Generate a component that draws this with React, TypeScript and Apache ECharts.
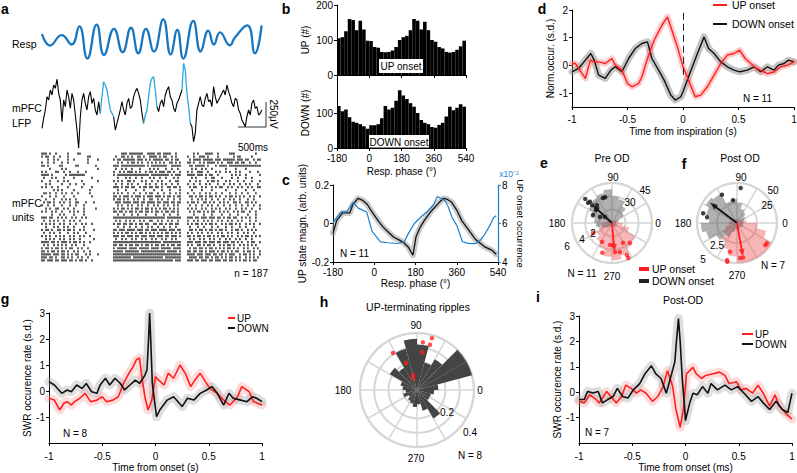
import React, { useEffect, useRef } from "react";
import * as echarts from "echarts";

const FONT = '"Liberation Sans", Arial, Helvetica, sans-serif';
const RED = "#ff1f1f";
const BLUE_RESP = "#1877c0";
const BLUE_LFP = "#2aa8e0";
const BLUE_C = "#1a7fd0";
const RING = "#d6d6d6";

// ---------- panel a ----------
const respTime = [0, 0.143, 0.351, 0.53, 0.667, 0.81, 0.976, 1.107, 1.286, 1.44, 1.589, 1.72, 1.857, 2.0, 2.167, 2.298, 2.417, 2.524, 2.702, 2.833, 2.97, 3.071, 3.18, 3.357, 3.446, 3.667, 3.804, 3.923];
const respValue = [6.7, -4.3, 5.7, -3.3, 14, -16.7, 15.7, -13.3, 11.7, -10.7, 12.7, -11.7, 11.7, -10, 20.7, -12.7, 10.7, -16.7, 19.3, -10, 10, -3.3, 8.3, -4, 3.3, 15, -11.7, 15];

const lfpStep = 0.02976; // seconds per sample
const lfpValues = [
  -283, -183, -100, 33, 0, 100, 50, 150, 117, 210,
  67, 0, -217, 0, -67, 100, 33, -83, 67, 0,
  -150, -300, -483, -167, 0, 67, -33, -100, 33, 83,
  -33, 17, -100, -150, -17, -133, 33, 183, 150, 100,
  0, -100, -133, -167, -300, -233, -167, -100, -17, -100,
  -150, -33, 17, -83, -67, 33, 83, 117, 67, 0,
  -133, -233, -150, -100, 33, 167, 217, 233, 100, -67,
  -117, -33, 0, -67, 50, 100, 133, 33, 0, -83,
  -117, -33, 0, 50, 100, 367, 300, 67, -67, -233,
  -267, -417, -333, -100, -33, 33, -50, -67, 17, 67,
  -17, 0, -67, 133, 33, -33, 0, 33, 67, 100,
  50, 150, 83, 33, -33, -67, 17, 0, -100, -133,
  -200, -233, -267, -167, -100, -150, -33, 0, -83, -67,
  -150, -133, -100,
];
const lfpBlueRanges = [[35, 43], [61, 69], [84, 89]];

const rasterColSec = 2 / 56;
const rasterOffsets = [0, 36, 55, 73];
const rasterRows = [
  ["|||.|..|.....|....||.........", "....|||.|||||||..||", "||.||.||||..|..", "...|.|...||||..|.....|||..........|.."],
  ["|.||..|..|...|.........||....", ".|..||.|.|..||.|..|", "|||.|.||..|.|..", "|..|..|||.|....|.......|.||.....|...."],
  ["...|..|.|....|..|......|....|", "|.||.||||||.|||.|.|", ".|||||.||.|.||.", ".|.||||.|||||.|||.||||||.|||.||..|.||"],
  ["|..|..|...|..|.........|.....", "..|.|..|.||.|.|..|.", "|.|.|.|..||.|.|", "||.|..|.|.||||.|.|..|||.||.||..|..|.."],
  ["||.|.....||......||........|.", "|||.||||||||||||.|.", "||||||||..|||||", ".||.|||||.|...|.||||.||||||||||||||||"],
  ["....|.....|.|...............|", ".|..|.|..|...|....|", ".|.|...|..|..|.", "..|.|..|.|..|......|....|....|......."],
  ["|.|....||..|..|...|...|......", "|..|.|.|||.|.|..|.|", "|.|.|||.||.|..|", "|.|..|||..|...|.|..|.|..|.|....|...|."],
  ["||||.|......|.||||||||.......", "|.||||||||||||||||.", "|||||||||.|.|||", "||||.|||.|.||..|......|.|.|..|......|"],
  [".|...|.|...|....|........|...", "..|...|.|..|..|...|", ".|..|..|...|.|.", "..|.|....|..||...|....|..|...|..|...."],
  ["|...|...|..|.|......|.......|", "|.|.|..||.|...|.|..", "|..|.|...|..||.", ".|..|.|...|.||.|...|.|...|..|...|...|"],
  ["..|.|.....|...|..|...|.......", ".|..|..|.|..|...|.|", "..|..|.|..|..|.", "|..|..|..|.|...|..|..|.|..|..|.|...|."],
  ["|.|..|..|....|......|....|...", "|||.|.||.||..|.||.|", "|.||.|..||.||.|", ".|.||..|.|..|.|.||..|.|..|.|..|.|..||"],
  ["......|.|.|.....|.......|....", "..|...|....|...|...", ".|...|...|....|", "..|....|....|......|....|....|...|..."],
  [".||.|..|..|.|..|..|.....|....", "|.|.|..|..|..|..|.|", "|..|..|..|..|.|", "|..|..|..|.|..|..|...|..|..|..|...|.."],
  ["|...|..|...|....|........|...", "||.|.|||.|.|||.|.||", "|.|||.|.||.|.||", ".||.|.||.|.||.|.|..|.||.|.|.|..|.|..|"],
  ["..|...|...|.|.|..|...........", "|.||.|.|..|.|..|..|", "|..|.|..|..|..|", "..|..|.|.|..|..|..|..|.|..|...|..|..."],
  [".|.||.|..|.|..|..||...|...|..", ".|||.||||.|||.||.||", "||.||.|||.||.||", "|.||.|..||.|.|..|.|.|..||.|..||.|.|.."],
  ["|..|..|...|...|..|...|.......", "..|.|..|.|..|.|..|.", ".|.|..|.|..|.|.", ".|..|..|..|.|..|..|..|..|..|..|..|..|"],
  ["..|.|..||..|.|..|....|.....|.", "|.|.||.|.|.||.|.||.", "|.|.|.||.|.|.|.", "|.|.|..|.|..|.|.|..|.|..|..|.|..|...|"],
  ["|.|..|.|..|...|.|.|..|.......", "||.||.|.||.|.||.||.", "|.||.|.||.||.|.", ".|.|.||.|.|.||..|.|.|..|.|.||..|..|.."],
  [".....|...|.|....|....|.......", "..|..|...|..|...|..", "..|...|..|...|.", "...|....|...|....|...|...|....|...|.."],
  ["|||.||..|.|.|..|.|..|.|......", "|||||||||||||||||||", "|||||||.|||||||", "|||.||.|||.|||.||.|.||.||..|.|.|..|.."],
  [".|..|.|.|..|..|.|..|.........", ".|.|..|.|.|..|.|..|", "|..|.|..|.|..|.", "|..|.|..|.|.|..|.|..|.|..|.|...|..|.."],
  ["|.|.|.|..|.|..|..|..|.|..|...", "|.||.||.||.|.||.||.", ".||.||.|.||.||.", "|.|.||.|.|.||.|..|.|.||.|.|..|.|.|..|"],
  ["..|...|.|..|.|..|....|.......", "..|..|..|..|..|..|.", "|..|..|..|..|..", ".|...|..|...|..|...|..|...|..|...|..."],
  ["|.||.|..||.|.||.|..|.|....|..", "||.|||.||||.|||.||.", "|||.||||.|||.||", ".||.|.||.|.||.|.||.|..|.||.|..|.|.|.."],
  [".|..|.|..|...|..|.|...|......", "|.|.|.||.|.|.||.|.|", ".|.|.|.||.|.|.|", "|.|..|.|..|.|..|.|..|.|..|..|.|..|..."],
  ["|.|.|..|.|.|..|.|..|.|..|....", "|||.||.|||.||.|||.|", "||.|||.||.|||.|", "||.|.||.|.||.|.|.||.|.|..|.|.||.|.|.|"],
  ["..|.|.|..|.|..|.|..|......|..", ".|..|.|..|.|..|.|..", "|.|..|.|..|.|..", ".|.|..|.|..|.|..|..|.|..|.|..|..|...."],
  ["||||.||.|.|||.|.||.|.|..|....", "|||||||||||||||||||", "|||||.|||||||||", "|||.|||.||.|||.||.|||.||.|.|..|.||..|"],
  [".|.|..|.|.|.|..|.|...|.......", "||.||.|.||.||.|.||.", "|.||.||.|.||.||", "|.|..||.|.||.|..|.|.||.|..|.|.|.|.|.."],
  ["|.||.|.||.|.|.||..|.|..|.....", "|.|||||.||||.|||||.", "||||.|||||.||||", ".|.||.||.|.||.|.|.|.||.|.|..|.|..|.|."],
  ["||.|.||.|.||.|..|.|..|..|....", "|||||.|||||||.|||||", "|||||||.|||||.|", "||.||.||.|.|||.|.||.|.|.||..|.||.|..|"],
  ["|||||.|||.||.|.|.||...|.|...|", "|||||||||||||||||||", "|||||||||||||||", "||||.|||.|||.||.||.|.|||..|.||.|.|..|"],
  ["|||.||.|..||.|.|..|.|..|.....", "|||||||||.|||||||||", "||||||.||||||||", ".||||.||.||.|.||.|.|.||.|.|..|.|.|.|."],
  ["||.|||.||.|||.||.|.||.|..|...", "|||||||||||||||||||", "|||||||||||.|||", "|||.||.|||.||.|||.||.||.|.|.||.|.||.."],
];

// ---------- panel b ----------
const phaseBins = [-170, -150, -130, -110, -90, -70, -50, -30, -10, 10, 30, 50, 70, 90, 110, 130, 150, 170, 190, 210, 230, 250, 270, 290, 310, 330, 350, 370, 390, 410, 430, 450, 470, 490, 510, 530];
const upCounts = [105, 108, 125, 160, 157, 128, 155, 130, 98, 97, 80, 78, 66, 65, 66, 70, 80, 100, 108, 112, 128, 160, 155, 130, 152, 128, 100, 95, 80, 76, 66, 64, 66, 72, 82, 98];
const downCounts = [120, 105, 110, 88, 75, 72, 68, 62, 55, 65, 65, 68, 85, 120, 110, 115, 135, 165, 150, 140, 128, 118, 100, 80, 72, 68, 60, 58, 66, 72, 90, 118, 108, 115, 125, 118];

// ---------- panel c ----------
const cUpMagn = [[-180, -0.05], [-164, 0.015], [-138, 0.055], [-107, 0.055], [-93, 0.1], [-71, 0.13], [-50, 0.12], [-31, 0.1], [-4, 0.05], [20, 0.01], [40, -0.02], [62, -0.045], [84, -0.07], [108, -0.085], [129, -0.1], [150, -0.125], [169, -0.165], [182, -0.07], [200, -0.02], [218, 0.015], [249, 0.065], [284, 0.11], [302, 0.13], [320, 0.125], [338, 0.11], [360, 0.07], [382, 0.015], [410, -0.03], [440, -0.08], [480, -0.12], [515, -0.14], [532, -0.16]];
const cUpOnset = [[-180, 6.05], [-144, 6.6], [-121, 6.6], [-92, 7.1], [-70, 6.8], [-33, 6.6], [-10, 5.6], [27, 5.05], [60, 5.0], [101, 4.96], [130, 5.04], [150, 5.5], [175, 6.0], [205, 6.35], [234, 6.65], [260, 7.0], [275, 7.4], [292, 7.3], [308, 7.2], [322, 6.9], [340, 6.3], [360, 5.9], [385, 5.05], [410, 4.97], [440, 4.95], [460, 5.1], [480, 5.4], [505, 5.9], [520, 6.3], [532, 6.4]];

// ---------- panel d ----------
const dUpOnset = [[-1.0, 0.07], [-0.97, 0.07], [-0.94, -0.11], [-0.88, -0.47], [-0.835, 0.19], [-0.8, 0.13], [-0.76, 0.13], [-0.7, 0.07], [-0.64, 0.25], [-0.61, 0.01], [-0.55, -0.17], [-0.5, -0.65], [-0.46, -0.77], [-0.4, -0.65], [-0.37, -0.41], [-0.32, 0.25], [-0.26, 0.91], [-0.19, 1.45], [-0.14, 1.75], [-0.1, 1.27], [-0.05, 0.67], [0.0, -0.05], [0.05, -0.53], [0.11, -1.13], [0.16, -1.07], [0.22, -0.77], [0.28, -0.35], [0.34, 0.07], [0.4, 0.37], [0.46, 0.43], [0.51, 0.55], [0.56, 0.25], [0.61, 0.07], [0.66, -0.1], [0.71, -0.2], [0.76, -0.3], [0.82, -0.23], [0.88, -0.05], [0.94, 0.0], [1.0, 0.13]];
const dDownOnset = [[-1.0, -0.23], [-0.94, -0.11], [-0.88, 0.19], [-0.83, 0.43], [-0.8, 0.19], [-0.76, -0.35], [-0.7, -0.47], [-0.65, -0.17], [-0.61, -0.05], [-0.55, -0.23], [-0.49, 0.25], [-0.43, 0.61], [-0.37, 0.79], [-0.32, 0.85], [-0.28, 0.25], [-0.23, -0.1], [-0.17, -0.53], [-0.11, -1.07], [-0.07, -1.25], [-0.02, -1.13], [0.0, -0.95], [0.05, -0.41], [0.13, 0.43], [0.19, 1.03], [0.23, 0.61], [0.28, 0.43], [0.34, 0.13], [0.4, -0.05], [0.46, -0.17], [0.51, -0.23], [0.58, -0.17], [0.64, -0.05], [0.7, -0.23], [0.76, -0.05], [0.82, -0.17], [0.86, 0.01], [0.91, 0.07], [0.95, 0.19], [1.0, 0.13]];

// ---------- panels e, f, h (polar) ----------
const angleBins = ["0", "15", "30", "45", "60", "75", "90", "105", "120", "135", "150", "165", "180", "195", "210", "225", "240", "255", "270", "285", "300", "315", "330", "345"];
const eDownHist = [5, 8, 15, 22, 28, 30, 38, 35, 33, 30, 25, 20, 18, 12, 8, 5, 4, 4, 4, 4, 5, 5, 6, 5];
const eUpHist = [8, 5, 4, 4, 3, 3, 3, 3, 4, 5, 6, 8, 12, 15, 20, 25, 30, 38, 42, 38, 33, 30, 20, 12];
const eDownDots = [[5.4, 138], [4.7, 140], [4.0, 138], [4.6, 136], [3.5, 130], [4.0, 110], [3.1, 157], [2.0, 153], [1.4, 139], [4.0, 105], [3.1, 141]];
const eUpDots = [[3.2, 242], [3.3, 265], [3.3, 273], [4.4, 276], [3.4, 299], [4.0, 312], [5.3, 295], [4.5, 285], [3.2, 208], [4.7, 252], [5.8, 295]];
const eDownMean = [3.45, 137];
const eUpMean = [3.75, 275];

const fDownHist = [8, 10, 12, 15, 18, 25, 30, 28, 42, 45, 40, 35, 45, 40, 30, 20, 12, 8, 8, 6, 6, 8, 8, 8];
const fUpHist = [12, 8, 6, 5, 5, 5, 5, 5, 6, 6, 8, 10, 10, 15, 20, 28, 35, 42, 50, 52, 55, 52, 38, 25];
const fDownDots = [[5.6, 106], [4.4, 84], [4.0, 118], [4.4, 164], [3.8, 169], [5.3, 208], [2.9, 100]];
const fUpDots = [[3.7, 256], [4.8, 255], [5.0, 256], [4.4, 275], [4.4, 280], [4.5, 322], [4.5, 326]];
const fDownMean = [3.75, 143];
const fUpMean = [3.8, 280];

const hHist = [0.15, 0.42, 0.44, 0.25, 0.2, 0.32, 0.36, 0.3, 0.18, 0.22, 0.12, 0.1, 0.08, 0.1, 0.07, 0.09, 0.1, 0.12, 0.1, 0.15, 0.23, 0.1, 0.1, 0.12];
const hUpDots = [[0.379, 74], [0.33, 74], [0.337, 83], [0.309, 123], [0.267, 82], [0.204, 112], [0.109, 105], [0.088, 108]];

// ---------- panel g ----------
const gUp = [[-1.0, -0.28], [-0.95, -0.35], [-0.9, -0.73], [-0.86, -0.47], [-0.83, -0.41], [-0.79, -0.54], [-0.76, -0.41], [-0.71, -0.28], [-0.66, -0.09], [-0.61, -0.41], [-0.55, -0.35], [-0.5, -0.22], [-0.46, -0.41], [-0.4, -0.35], [-0.35, -0.22], [-0.3, 0.29], [-0.25, 0.68], [-0.21, 0.94], [-0.18, 1.2], [-0.15, 1.27], [-0.13, 0.6], [-0.1, -0.22], [-0.07, -0.73], [-0.035, -0.35], [0.0, 0.55], [0.03, 0.42], [0.08, 0.23], [0.12, 0.68], [0.17, 0.49], [0.23, 1.0], [0.28, 0.68], [0.33, 0.17], [0.37, 0.42], [0.42, 0.68], [0.46, 0.42], [0.51, 0.1], [0.58, -0.09], [0.64, -0.35], [0.7, -0.54], [0.77, -0.22], [0.81, 0.17], [0.88, -0.03], [0.92, -0.41], [1.0, -0.54]];
const gDown = [[-1.0, 0.36], [-0.95, 0.23], [-0.88, -0.09], [-0.83, 0.04], [-0.79, -0.03], [-0.74, 0.23], [-0.69, 0.1], [-0.65, 0.29], [-0.6, -0.03], [-0.55, -0.09], [-0.52, 0.23], [-0.47, 0.49], [-0.43, 0.23], [-0.38, 0.49], [-0.33, 0.29], [-0.29, 0.04], [-0.24, 0.23], [-0.19, 0.42], [-0.15, 0.29], [-0.1, 0.6], [-0.08, 0.81], [-0.065, 2.0], [-0.055, 3.0], [-0.045, 2.0], [-0.03, 0.3], [-0.015, -0.2], [0.01, -0.99], [0.04, -0.73], [0.11, -0.35], [0.17, -0.22], [0.25, -0.6], [0.3, -0.28], [0.36, -0.35], [0.42, -0.09], [0.48, 0.04], [0.53, 0.17], [0.58, -0.09], [0.64, -0.54], [0.69, -0.09], [0.73, -0.28], [0.8, -0.35], [0.86, -0.41], [0.91, -0.22], [0.95, -0.28], [1.0, -0.41]];

// ---------- panel i ----------
const iUp = [[-1.0, -0.36], [-0.95, -0.42], [-0.9, -0.1], [-0.85, -0.25], [-0.81, -0.42], [-0.74, 0.03], [-0.7, -0.17], [-0.65, -0.42], [-0.6, -0.17], [-0.56, 0.28], [-0.51, 0.15], [-0.46, -0.04], [-0.42, 0.09], [-0.37, -0.04], [-0.31, -0.36], [-0.26, -0.17], [-0.21, 0.22], [-0.17, 0.85], [-0.12, 0.22], [-0.09, -0.68], [-0.05, -1.38], [-0.02, -0.68], [0.01, 0.73], [0.04, 0.85], [0.07, 0.98], [0.1, 0.73], [0.15, 0.54], [0.19, 0.66], [0.26, 0.73], [0.32, 0.79], [0.37, 0.66], [0.41, 0.34], [0.48, 0.41], [0.52, 0.09], [0.57, 0.15], [0.63, -0.04], [0.68, 0.28], [0.73, -0.04], [0.79, -0.55], [0.84, -0.1], [0.88, -0.55], [0.95, -0.87], [1.0, -1.06]];
const iDown = [[-1.0, -0.29], [-0.95, -0.29], [-0.92, 0.03], [-0.87, -0.03], [-0.82, 0.03], [-0.78, -0.42], [-0.73, -0.29], [-0.68, -0.17], [-0.64, 0.15], [-0.59, -0.17], [-0.54, -0.23], [-0.49, 0.09], [-0.43, 0.34], [-0.38, 0.73], [-0.32, 1.04], [-0.28, 0.73], [-0.23, 0.54], [-0.18, -0.04], [-0.13, 0.73], [-0.1, 1.2], [-0.085, 2.0], [-0.066, 2.9], [-0.05, 2.0], [-0.03, 0.5], [-0.01, -0.5], [0.0, -1.12], [0.04, -0.42], [0.07, -0.04], [0.11, -0.1], [0.16, 0.22], [0.21, -0.04], [0.24, 0.34], [0.3, 0.09], [0.37, 0.28], [0.43, 0.09], [0.49, 0.22], [0.55, -0.04], [0.62, -0.36], [0.68, -0.17], [0.73, -0.42], [0.79, -0.68], [0.85, -0.36], [0.91, -0.68], [0.96, -0.8], [1.0, -0.04]];

// ---------- helpers ----------
const axisBase: any = {
  axisLine: { show: true, onZero: false, lineStyle: { color: "#000", width: 1 } },
  axisTick: { show: true, length: 3, lineStyle: { color: "#000", width: 1 } },
  axisLabel: { color: "#000", fontSize: 10, fontFamily: FONT, margin: 4 },
  splitLine: { show: false },
  nameTextStyle: { color: "#000", fontSize: 10, fontFamily: FONT },
};
const hiddenAxis = (gridIndex: number, min: number, max: number, extra: any = {}) => ({
  gridIndex, type: "value", min, max, show: false, ...extra,
});

function txt(text: string, x: number, y: number, o: any = {}) {
  const align = o.align || "center";
  return {
    type: "text", x, y, z: 100, rotation: o.rot || 0,
    style: {
      text, fill: o.color || "#000",
      font: `${o.bold ? "bold " : ""}${o.size || 10}px ${FONT}`,
      textAlign: align, textVerticalAlign: "middle", align, verticalAlign: "middle",
    },
  };
}
function seg(x1: number, y1: number, x2: number, y2: number, color: string, w = 1) {
  return { type: "line", z: 100, shape: { x1, y1, x2, y2 }, style: { stroke: color, lineWidth: w } };
}
function box(x: number, y: number, w: number, h: number, color: string) {
  return { type: "rect", z: 99, shape: { x, y, width: w, height: h }, style: { fill: color } };
}

function curve(xi: number, yi: number, data: number[][], color: string, band: string, bandW: number, w = 1.3, extra: any = {}) {
  return [
    { type: "line", xAxisIndex: xi, yAxisIndex: yi, data, symbol: "none", lineStyle: { color: band, width: bandW, cap: "round", join: "round" }, z: 1, silent: true },
    { type: "line", xAxisIndex: xi, yAxisIndex: yi, data, symbol: "none", lineStyle: { color, width: w }, z: 3, silent: true, ...extra },
  ];
}

function polarGrid(pi: number, max: number, interval: number) {
  return {
    angle: {
      polarIndex: pi, type: "value", min: 0, max: 360, interval: 30, startAngle: 0, clockwise: false,
      axisLine: { show: true, lineStyle: { color: RING, width: 2 } }, axisTick: { show: false },
      axisLabel: { show: false }, splitLine: { show: true, lineStyle: { color: RING, width: 1.5 } },
    },
    radius: {
      polarIndex: pi, type: "value", min: 0, max, interval,
      axisLine: { show: false }, axisTick: { show: false }, axisLabel: { show: false },
      splitLine: { show: true, lineStyle: { color: RING, width: 2 } },
    },
  };
}
function polarBars(pi: number, max: number) {
  return {
    angle: {
      polarIndex: pi, type: "category", data: angleBins, startAngle: 0, clockwise: false, boundaryGap: true,
      axisLine: { show: false }, axisTick: { show: false }, axisLabel: { show: false }, splitLine: { show: false },
    },
    radius: {
      polarIndex: pi, type: "value", min: 0, max,
      axisLine: { show: false }, axisTick: { show: false }, axisLabel: { show: false }, splitLine: { show: false },
    },
  };
}
function roseBar(pi: number, data: number[], color: string) {
  return { type: "bar", coordinateSystem: "polar", polarIndex: pi, data, barCategoryGap: "0%", barGap: "-100%", itemStyle: { color }, z: 2, silent: true };
}
function dots(pi: number, data: number[][], color: string) {
  return { type: "scatter", coordinateSystem: "polar", polarIndex: pi, data, symbolSize: 4.5, itemStyle: { color }, z: 6, silent: true };
}
function arrow(pi: number, m: number[], color: string) {
  return [
    { type: "line", coordinateSystem: "polar", polarIndex: pi, data: [[0, m[1]], [m[0], m[1]]], symbol: "none", lineStyle: { color, width: 1.8 }, z: 7, silent: true },
    { type: "scatter", coordinateSystem: "polar", polarIndex: pi, data: [m], symbol: "triangle", symbolSize: [6, 8], symbolRotate: m[1] - 90, itemStyle: { color }, z: 8, silent: true },
  ];
}

function buildOption() {
  const raster: number[][] = [];
  rasterRows.forEach((row, r) => {
    row.forEach((s, b) => {
      for (let k = 0; k < s.length; k++) {
        if (s[k] === "|") raster.push([(rasterOffsets[b] + k) * rasterColSec, r + 0.5]);
      }
    });
  });
  const inBlue = (i: number, strict: boolean) =>
    lfpBlueRanges.some(([a, b]) => (strict ? i > a && i < b : i >= a && i <= b));
  const lfpBlack = lfpValues.map((v, i) => [i * lfpStep, inBlue(i, true) ? "-" : v]);
  const lfpBlue = lfpValues.map((v, i) => [i * lfpStep, inBlue(i, false) ? v : "-"]);

  const pE = polarGrid(0, 6, 2), pEb = polarBars(1, 45);
  const pF = polarGrid(2, 5, 2.5), pFb = polarBars(3, 50);
  const pH = polarGrid(4, 0.4, 0.1), pHb = polarBars(5, 0.4);

  const dash = (x: number, y1: number, y2: number, color: string) => ({
    silent: true, symbol: ["none", "none"], label: { show: false },
    lineStyle: { color, type: [7, 4], width: 1 },
    data: [[{ coord: [x, y1] }, { coord: [x, y2] }]],
  });

  const series: any[] = [
    // a
    { type: "line", xAxisIndex: 0, yAxisIndex: 0, data: respTime.map((t, i) => [t, respValue[i]]), smooth: 0.5, symbol: "none", lineStyle: { color: BLUE_RESP, width: 2.3 } },
    { type: "line", xAxisIndex: 1, yAxisIndex: 1, data: lfpBlack, symbol: "none", connectNulls: false, lineStyle: { color: "#000", width: 1.1 }, z: 2 },
    { type: "line", xAxisIndex: 1, yAxisIndex: 1, data: lfpBlue, symbol: "none", connectNulls: false, lineStyle: { color: BLUE_LFP, width: 1.3 }, z: 4 },
    { type: "scatter", xAxisIndex: 2, yAxisIndex: 2, data: raster, symbol: "rect", symbolSize: [1.6, 2.2], itemStyle: { color: "#000" }, silent: true },
    // b
    { type: "bar", xAxisIndex: 3, yAxisIndex: 3, data: upCounts, barCategoryGap: "0%", itemStyle: { color: "#000" } },
    { type: "bar", xAxisIndex: 5, yAxisIndex: 4, data: downCounts, barCategoryGap: "0%", itemStyle: { color: "#000" } },
    // c
    ...curve(7, 5, cUpMagn, "#111", "rgba(150,150,150,0.5)", 6, 1.3),
    { type: "line", xAxisIndex: 7, yAxisIndex: 6, data: cUpOnset, symbol: "none", lineStyle: { color: BLUE_C, width: 1.2 }, z: 4 },
    // d
    ...curve(8, 7, dDownOnset, "#111", "rgba(150,150,150,0.55)", 7, 1.4),
    ...curve(8, 7, dUpOnset, RED, "rgba(255,120,120,0.4)", 6, 1.4, { markLine: dash(0, 1.9, -0.5, "#222") }),
    // g
    ...curve(9, 8, gUp, RED, "rgba(255,140,140,0.3)", 9, 1.6),
    ...curve(9, 8, gDown, "#111", "rgba(160,160,160,0.35)", 9, 1.6, { markLine: dash(0, 3.1, -1.5, "#111") }),
    // i
    ...curve(10, 9, iUp, RED, "rgba(255,140,140,0.3)", 9, 1.6),
    ...curve(10, 9, iDown, "#111", "rgba(160,160,160,0.35)", 9, 1.6, { markLine: dash(0.01, 3.1, -1.8, "#666") }),
    // e
    roseBar(1, eUpHist, "rgba(240,60,60,0.38)"),
    roseBar(1, eDownHist, "rgba(80,80,80,0.45)"),
    dots(0, eDownDots, "#111"),
    dots(0, eUpDots, RED),
    ...arrow(0, eDownMean, "#111"),
    ...arrow(0, eUpMean, RED),
    // f
    roseBar(3, fUpHist, "rgba(240,60,60,0.38)"),
    roseBar(3, fDownHist, "rgba(80,80,80,0.45)"),
    dots(2, fDownDots, "#111"),
    dots(2, fUpDots, RED),
    ...arrow(2, fDownMean, "#111"),
    ...arrow(2, fUpMean, RED),
    // h
    roseBar(5, hHist, "#444444"),
    dots(4, hUpDots, RED),
  ];

  const graphics: any[] = [
    // panel letters
    txt("a", 5, 9, { bold: true, size: 14 }),
    txt("b", 286, 9, { bold: true, size: 14 }),
    txt("c", 286, 180, { bold: true, size: 14 }),
    txt("d", 542, 9, { bold: true, size: 14 }),
    txt("e", 544, 163, { bold: true, size: 14 }),
    txt("f", 684, 164, { bold: true, size: 14 }),
    txt("g", 5, 299, { bold: true, size: 14 }),
    txt("h", 324, 302, { bold: true, size: 14 }),
    txt("i", 538, 297, { bold: true, size: 14 }),
    // a
    txt("Resp", 12, 44, { align: "left", size: 10.5 }),
    txt("mPFC", 12, 108, { align: "left", size: 10.5 }),
    txt("LFP", 12, 123, { align: "left", size: 10.5 }),
    txt("mPFC", 12, 203, { align: "left", size: 10.5 }),
    txt("units", 12, 217, { align: "left", size: 10.5 }),
    seg(266, 102, 266, 127, "#333"),
    seg(238, 127, 266, 127, "#333"),
    txt("250μV", 273, 114, { rot: -Math.PI / 2, size: 10 }),
    txt("500ms", 253, 147, { size: 10 }),
    txt("n = 187", 268, 273, { align: "right", size: 10 }),
    // b
    box(379, 59, 44, 14, "#fff"),
    txt("UP onset", 401, 66, { size: 10 }),
    box(369, 135, 60, 12.5, "#fff"),
    txt("DOWN onset", 399, 142, { size: 10 }),
    // c
    txt("N = 11", 340, 253, { align: "left", size: 10 }),
    txt("x10⁻²", 509, 174, { color: BLUE_C, size: 8.5 }),
    // d
    seg(713, 5, 727, 5, RED, 2),
    txt("UP onset", 732, 5, { align: "left", size: 10.5 }),
    seg(713, 24, 727, 24, "#111", 2),
    txt("DOWN onset", 732, 24, { align: "left", size: 10.5 }),
    txt("N = 11", 743, 98, { align: "left", size: 10 }),
    // e
    txt("Pre OD", 612, 158, { size: 10.5 }),
    txt("90", 613, 177), txt("180", 557, 223), txt("0", 658, 223), txt("270", 612, 276),
    txt("2", 593, 233), txt("4", 582, 239), txt("6", 567, 246),
    txt("30", 630, 202), txt("45", 645, 190),
    txt("N = 11", 582, 273),
    box(639, 267, 10, 4, RED),
    txt("UP onset", 652, 269, { align: "left", size: 10.5 }),
    box(639, 279, 10, 4, "#222"),
    txt("DOWN onset", 652, 281, { align: "left", size: 10.5 }),
    // f
    txt("Post OD", 740, 158, { size: 10.5 }),
    txt("90", 741, 177), txt("180", 683, 223), txt("0", 785, 223), txt("270", 737, 275),
    txt("25", 767, 205), txt("50", 773, 190), txt("2.5", 717, 245), txt("5", 703, 259),
    txt("N = 7", 773, 265),
    // g
    seg(228, 318, 235, 318, RED, 2),
    txt("UP", 237, 318, { align: "left", size: 10 }),
    seg(228, 328, 235, 328, "#111", 2),
    txt("DOWN", 237, 328, { align: "left", size: 10 }),
    txt("N = 8", 63, 433, { align: "left", size: 10 }),
    // h
    txt("UP-terminating ripples", 418, 307, { size: 10.5 }),
    txt("90", 416, 325), txt("180", 343, 390), txt("0", 480, 390), txt("270", 416, 458),
    txt("0.2", 447, 412), txt("0.4", 470, 432),
    txt("N = 8", 470, 455),
    // i
    txt("Post-OD", 683, 300, { size: 10.5 }),
    seg(742, 334, 753, 334, RED, 2),
    txt("UP", 755, 334, { align: "left", size: 10 }),
    seg(742, 344, 753, 344, "#111", 2),
    txt("DOWN", 755, 344, { align: "left", size: 10 }),
    txt("N = 7", 585, 432, { align: "left", size: 10 }),
  ];

  const g = (left: number, top: number, width: number, height: number) => ({ left, top, width, height, containLabel: false, outerBoundsMode: "none" });

  return {
    animation: false,
    backgroundColor: "#fff",
    textStyle: { fontFamily: FONT },
    grid: [
      g(42, 18, 220, 44),
      g(42, 60, 220, 90),
      g(42, 152, 220, 110),
      g(337, 5, 129, 70),
      g(337, 78, 129, 70),
      g(333, 185, 165, 77),
      g(572, 10, 222, 97),
      g(49, 313, 213, 130),
      g(579, 316, 213, 127),
    ],
    xAxis: [
      hiddenAxis(0, 0, 3.93),
      hiddenAxis(1, 0, 3.93),
      hiddenAxis(2, 0, 3.93),
      { gridIndex: 3, type: "category", data: phaseBins, show: false, boundaryGap: true },
      { gridIndex: 3, type: "value", position: "bottom", min: -180, max: 540, interval: 180, ...axisBase, axisLabel: { show: false } },
      { gridIndex: 4, type: "category", data: phaseBins, show: false, boundaryGap: true },
      { gridIndex: 4, type: "value", position: "bottom", min: -180, max: 540, interval: 180, ...axisBase, axisLabel: { ...axisBase.axisLabel, margin: 5 }, name: "Resp. phase (°)", nameLocation: "middle", nameGap: 18 },
      { gridIndex: 5, type: "value", position: "bottom", min: -180, max: 540, interval: 180, ...axisBase, axisLabel: { ...axisBase.axisLabel, margin: 5 }, name: "Resp. phase (°)", nameLocation: "middle", nameGap: 16 },
      { gridIndex: 6, type: "value", position: "bottom", min: -1, max: 1, interval: 0.5, ...axisBase, axisLabel: { ...axisBase.axisLabel, margin: 7 }, name: "Time from inspiration (s)", nameLocation: "middle", nameGap: 19 },
      { gridIndex: 7, type: "value", position: "bottom", min: -1, max: 1, interval: 0.5, ...axisBase, axisLabel: { ...axisBase.axisLabel, margin: 8 }, name: "Time from onset (s)", nameLocation: "middle", nameGap: 19 },
      { gridIndex: 8, type: "value", position: "bottom", min: -1, max: 1, interval: 0.5, ...axisBase, axisLabel: { ...axisBase.axisLabel, margin: 8 }, name: "Time from onset (ms)", nameLocation: "middle", nameGap: 19 },
    ],
    yAxis: [
      hiddenAxis(0, -20, 22),
      hiddenAxis(1, -500, 400),
      hiddenAxis(2, 0, 36, { inverse: true }),
      { gridIndex: 3, type: "value", min: 0, max: 200, interval: 100, ...axisBase, name: "UP (#)", nameLocation: "middle", nameRotate: 90, nameGap: 27 },
      { gridIndex: 4, type: "value", min: 0, max: 200, ...axisBase, axisLabel: { ...axisBase.axisLabel, customValues: [0, 100] }, axisTick: { ...axisBase.axisTick, customValues: [0, 100] }, name: "DOWN (#)", nameLocation: "middle", nameRotate: 90, nameGap: 27 },
      { gridIndex: 5, type: "value", min: -0.2, max: 0.2, interval: 0.2, ...axisBase, name: "UP state magn. (arb. units)", nameLocation: "middle", nameRotate: 90, nameGap: 25 },
      {
        gridIndex: 5, type: "value", position: "right", min: 4, max: 8, interval: 2, ...axisBase,
        axisLine: { show: true, onZero: false, lineStyle: { color: BLUE_C, width: 1.2 } },
        axisTick: { show: true, length: 3, lineStyle: { color: BLUE_C } },
        axisLabel: { color: "#000", fontSize: 10, fontFamily: FONT, margin: 4 },
        name: "UP onset occurrence", nameLocation: "middle", nameRotate: -90, nameGap: 17,
        nameTextStyle: { color: "#000", fontSize: 9.5, fontFamily: FONT, padding: [12, 0, 0, 0] },
      },
      { gridIndex: 6, type: "value", min: -1.5, max: 2, ...axisBase, axisLabel: { ...axisBase.axisLabel, customValues: [-1, 0, 1, 2] }, axisTick: { ...axisBase.axisTick, customValues: [-1, 0, 1, 2] }, name: "Norm.occur. (s.d.)", nameLocation: "middle", nameRotate: 90, nameGap: 16 },
      { gridIndex: 7, type: "value", min: -2, max: 3, ...axisBase, axisLabel: { ...axisBase.axisLabel, customValues: [-1, 0, 1, 2, 3] }, axisTick: { ...axisBase.axisTick, customValues: [-1, 0, 1, 2, 3] }, name: "SWR occurence rate (s.d.)", nameLocation: "middle", nameRotate: 90, nameGap: 14 },
      { gridIndex: 8, type: "value", min: -2, max: 3, ...axisBase, axisLabel: { ...axisBase.axisLabel, customValues: [-1, 0, 1, 2, 3] }, axisTick: { ...axisBase.axisTick, customValues: [-1, 0, 1, 2, 3] }, name: "SWR occurence rate (s.d.)", nameLocation: "middle", nameRotate: 90, nameGap: 14 },
    ],
    polar: [
      { center: [612, 223], radius: 40 },
      { center: [612, 223], radius: 40 },
      { center: [737, 223], radius: 40 },
      { center: [737, 223], radius: 40 },
      { center: [417, 390], radius: 57 },
      { center: [417, 390], radius: 57 },
    ],
    angleAxis: [pE.angle, pEb.angle, pF.angle, pFb.angle, pH.angle, pHb.angle],
    radiusAxis: [pE.radius, pEb.radius, pF.radius, pFb.radius, pH.radius, pHb.radius],
    series,
    graphic: { elements: graphics },
  };
}

export default function App() {
  const ref = useRef<HTMLDivElement>(null);
  useEffect(() => {
    if (!ref.current) return;
    const chart = echarts.init(ref.current, null, { renderer: "svg" });
    chart.setOption(buildOption() as any);
    return () => chart.dispose();
  }, []);
  return (
    <div
      ref={ref}
      style={{ position: "fixed", left: 0, top: 0, width: 797, height: 473, background: "#fff" }}
    />
  );
}
